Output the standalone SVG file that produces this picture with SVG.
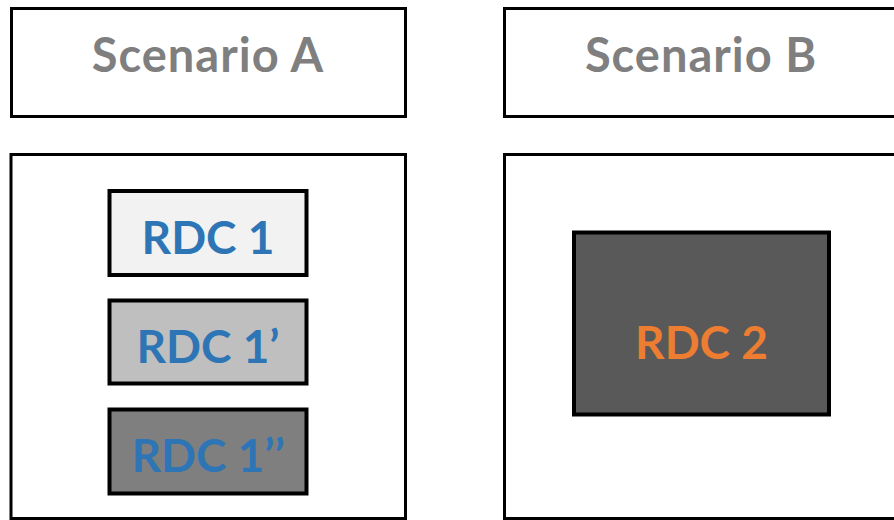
<svg xmlns="http://www.w3.org/2000/svg" width="894" height="520" viewBox="0 0 894 520">
<style>
.frame{fill:#ffffff;stroke:#000000;stroke-width:3}
.node{stroke:#000000;stroke-width:4}
.t{font-family:Lato,"Open Sans","Liberation Sans",sans-serif;font-weight:bold;font-size:46px;text-anchor:middle}
.title{fill:#7f7f7f;font-size:47px;letter-spacing:1px}
.blue{fill:#2e75b6}
.orange{fill:#ed7d31}
</style>
<rect width="894" height="520" fill="#ffffff"/>
<g id="scenarioA-title">
<rect class="frame" x="11.5" y="8.5" width="394" height="108"/>
<text class="t title" x="208" y="72">Scenario A</text>
</g>
<g id="scenarioB-title">
<rect class="frame" x="504.5" y="8.5" width="400" height="108"/>
<text class="t title" x="701" y="72">Scenario B</text>
</g>
<g id="scenarioA-panel">
<rect class="frame" x="11" y="154.5" width="394.5" height="364"/>
</g>
<g id="scenarioB-panel">
<rect class="frame" x="504.5" y="154.5" width="400" height="364"/>
</g>
<g id="rdc1">
<rect class="node" x="109.5" y="191" width="197" height="84" fill="#f2f2f2"/>
<text class="t blue" x="208" y="254">RDC 1</text>
</g>
<g id="rdc1p">
<rect class="node" x="109.5" y="300.5" width="197" height="83" fill="#bfbfbf"/>
<text class="t blue" x="208" y="363">RDC 1’</text>
</g>
<g id="rdc1pp">
<rect class="node" x="109.5" y="409.5" width="197" height="84" fill="#7f7f7f"/>
<text class="t blue" x="208" y="472">RDC 1’’</text>
</g>
<g id="rdc2">
<rect class="node" x="574" y="232.5" width="255" height="182" fill="#595959"/>
<text class="t orange" x="701.5" y="359">RDC 2</text>
</g>
<g id="connectors"></g>
</svg>
